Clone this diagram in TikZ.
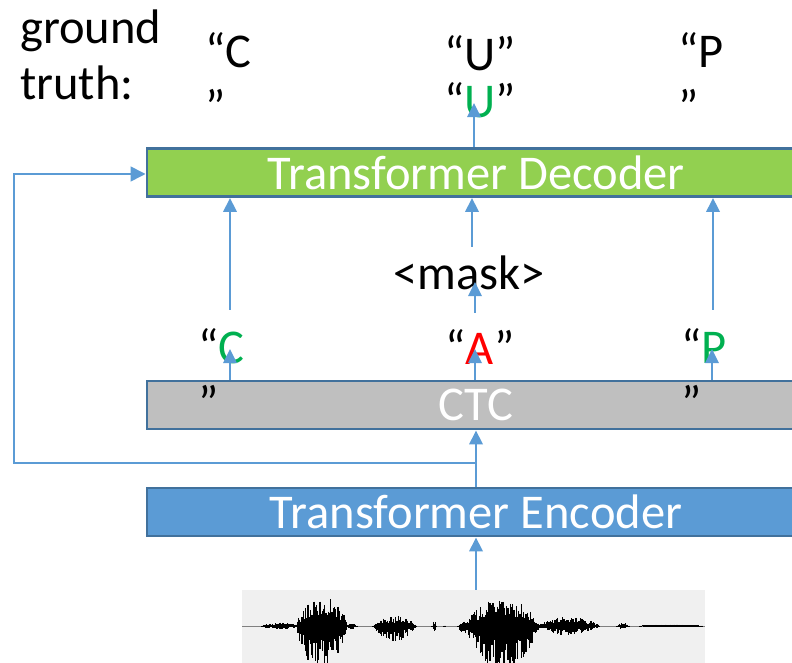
\documentclass[tikz,border=0pt]{standalone}
\usepackage{fontspec}
\setmainfont{Carlito}
\usepackage{tikz}
\usetikzlibrary{arrows.meta,positioning,calc}
\definecolor{DecGreen}{HTML}{92D050}
\definecolor{CtcGray}{HTML}{BFBFBF}
\definecolor{EncBlue}{HTML}{5B9BD5}
\definecolor{EdgeBlue}{HTML}{41719C}
\definecolor{ArrBlue}{HTML}{5B9BD5}
\definecolor{OkGreen}{HTML}{00B050}
\definecolor{BadRed}{HTML}{FF0000}
\definecolor{WaveBg}{HTML}{F0F0F0}

\begin{document}
\begin{tikzpicture}[x=0.025cm,y=-0.025cm,
  big/.style={font=\fontsize{34.5}{40}\selectfont},
  txt/.style={big,inner sep=0pt,align=left},
  box/.style={big,draw=EdgeBlue,line width=2pt,text=white,inner sep=0pt,minimum width=16.45cm,minimum height=1.2cm},
  arr/.style={-{Triangle[length=10pt,width=9.5pt]},line width=1.6pt,ArrBlue},
  fb/.style={-{Triangle[length=10.5pt,width=10.5pt]},line width=1.1pt,ArrBlue},
  wave/.style={line width=0.8pt,black}
]
  \useasboundingbox (0,0) rectangle (792,663);

  % ground truth row
  \node[txt,anchor=base west] (gt) at (20,100) {ground\\truth:};
  \node[txt,anchor=base west] (gtC) at (205,124) {“C\\”};
  \node[txt,anchor=base,align=center,font=\fontsize{34.5}{34}\selectfont] (gtU) at (480,118) {“U”\\“\textcolor{OkGreen}{U}”};
  \node[txt,anchor=base west] (gtP) at (678,124) {“P\\”};

  % stacked blocks
  \node[box,fill=DecGreen] (dec) at (476,172.5) {Transformer Decoder};
  \node[box,fill=CtcGray] (ctc) at (476,405) {CTC};
  \node[box,fill=EncBlue] (enc) at (476,512) {Transformer Encoder};

  % CTC output and the masked token
  \node[txt,anchor=base west] (oC) at (198,420) {“\textcolor{OkGreen}{C}\\”};
  \node[txt,anchor=base] (oA) at (480,365) {“\textcolor{BadRed}{A}”};
  \node[txt,anchor=base west] (oP) at (681,420) {“\textcolor{OkGreen}{P}\\”};
  \node[txt,anchor=base] (mask) at (469,290) {<mask>};

  % speech input
  \node[fill=WaveBg,minimum width=11.575cm,minimum height=2cm,inner sep=0pt] (wav) at (473.5,630) {};
  \draw[gray,line width=0.4pt] (242,626) -- (705,626);
  \pgfmathsetseed{7}
  \foreach \s/\e/\u/\d in {262/300/3/3,296/348/32/44,345/358/3/3,
      373/417/10/15,432/437/5/5,444/446/2/2,458/470/5/8,466/540/29/46,
      537/600/9/9,617/630/3/3,640/703/1/1} {
    \pgfmathtruncatemacro\n{(\e-\s)/1.2}
    \foreach \i in {0,...,\n} {
      \pgfmathsetmacro\xx{\s+1.2*\i}
      \pgfmathsetmacro\up{\u*sin(180*\i/\n)^0.7*(0.3+0.7*rnd)}
      \pgfmathsetmacro\dn{\d*sin(180*\i/\n)^0.7*(0.3+0.7*rnd)}
      \draw[wave] (\xx,{626-\up-0.4}) -- (\xx,{626+\dn+0.4});
    }
  }

  % encoder path
  \draw[arr] (wav.north -| enc) -- (enc.south);
  \draw[arr] (enc.north) -- (ctc.south);
  \coordinate (split) at (476,463);
  \coordinate (loop) at (14,174);
  \draw[fb] (split) -- (split -| loop) -- (loop) -- (loop -| dec.west);

  % CTC outputs
  \foreach \n/\x in {C/230,A/475,P/712} \coordinate (t\n) at (\x,349);
  \foreach \n in {C,A,P} \draw[arr] (ctc.north -| t\n) -- (t\n);

  % decoder inputs
  \coordinate (iC) at (230,310);
  \coordinate (iM) at (472,247);
  \coordinate (iP) at (713,310);
  \foreach \n in {C,M,P} \draw[arr] (i\n) -- (i\n |- dec.south);
  \coordinate (mb) at (475,313);
  \coordinate (mt) at (475,282);
  \draw[arr] (mb) -- (mt);

  % decoder output
  \coordinate (tU) at (474,103);
  \draw[arr] (dec.north -| tU) -- (tU);
\end{tikzpicture}
\end{document}
